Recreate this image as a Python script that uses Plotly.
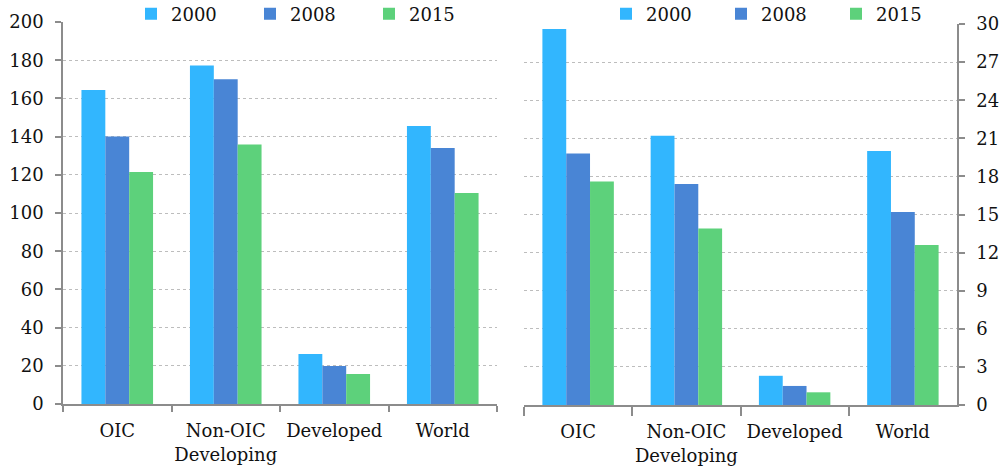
import plotly.graph_objects as go

categories = ["OIC", "Non-OIC<br>Developing", "Developed", "World"]
years = ["2000", "2008", "2015"]
left_values = {
    "2000": [164.4, 177.2, 26.2, 145.5],
    "2008": [140.0, 170.0, 19.9, 134.0],
    "2015": [121.5, 135.8, 15.7, 110.5],
}
right_values = {
    "2000": [29.6, 21.2, 2.3, 20.0],
    "2008": [19.8, 17.4, 1.5, 15.2],
    "2015": [17.6, 13.9, 1.0, 12.6],
}
colors = {"2000": "#32B6FE", "2008": "#4985D5", "2015": "#5DD17B"}

FONT = "DejaVu Serif"
fig = go.Figure()

for y in years:
    fig.add_trace(go.Bar(x=categories, y=left_values[y], name=y, marker_color=colors[y],
                         marker_line_width=0, xaxis="x", yaxis="y", legend="legend"))
for y in years:
    fig.add_trace(go.Bar(x=categories, y=right_values[y], name=y, marker_color=colors[y],
                         marker_line_width=0, xaxis="x2", yaxis="y2", legend="legend2"))

W, H = 1007, 474
axis_common = dict(showline=True, linecolor="#8C8C8C", linewidth=1.5,
                   tickfont=dict(family=FONT, size=18, color="#111"))
fig.update_layout(
    width=W, height=H,
    margin=dict(l=0, r=0, t=0, b=0, autoexpand=False),
    plot_bgcolor="white", paper_bgcolor="white",
    barmode="group", bargap=0.34, bargroupgap=0,
    font=dict(family=FONT, size=18, color="#111"),
    xaxis=dict(domain=[63 / W, 497 / W], anchor="y", ticks="outside",
               tickson="boundaries", tickangle=0, ticklen=6, tickcolor="#8C8C8C", tickwidth=1.5,
               ticklabelstandoff=10, automargin=False, **axis_common),
    yaxis=dict(domain=[(H - 404) / H, (H - 22) / H], anchor="x", range=[0, 200],
               dtick=20, ticks="outside", ticklen=6, tickcolor="#8C8C8C", tickwidth=1.5,
               ticklabelstandoff=8,
               showgrid=True, gridcolor="#BDBDBD", griddash="dot", gridwidth=1,
               zeroline=False, automargin=False, **axis_common),
    xaxis2=dict(domain=[524 / W, 957 / W], anchor="y2", ticks="outside",
                tickson="boundaries", tickangle=0, ticklen=9, tickcolor="#8C8C8C", tickwidth=1.5,
                ticklabelstandoff=10, automargin=False, **axis_common),
    yaxis2=dict(domain=[(H - 405) / H, (H - 24) / H], anchor="x2", side="right",
                range=[0, 30], dtick=3, ticks="outside", ticklen=6, tickcolor="#8C8C8C",
                tickwidth=1.5, ticklabelstandoff=8,
                showgrid=True, gridcolor="#BDBDBD", griddash="dot", gridwidth=1,
                zeroline=False, automargin=False, **axis_common),
    legend=dict(orientation="h", x=131 / W, y=1 - 14 / H, xanchor="left",
                yanchor="middle", entrywidth=74, entrywidthmode="pixels", itemwidth=30,
                font=dict(family=FONT, size=18), bgcolor="rgba(0,0,0,0)", traceorder="normal"),
    legend2=dict(orientation="h", x=606 / W, y=1 - 14 / H, xanchor="left",
                 yanchor="middle", entrywidth=70, entrywidthmode="pixels", itemwidth=30,
                 font=dict(family=FONT, size=18), bgcolor="rgba(0,0,0,0)", traceorder="normal"),
)

fig.write_html("out.html", config={"displayModeBar": False},
               post_script="document.body.style.margin='0';")
